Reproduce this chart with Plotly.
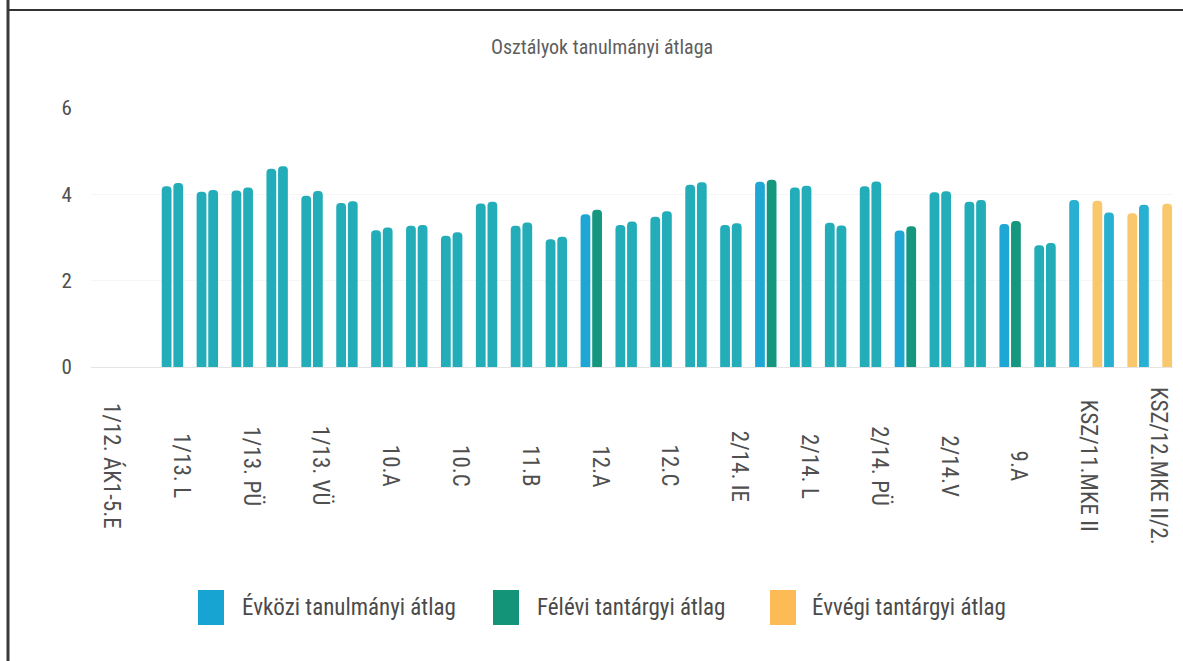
import plotly.graph_objects as go

# class averages, one slot per class (31 classes, only every other one is labelled)
evkozi = [None, None, 4.19, 4.06, 4.09, 4.59, 3.97, 3.80, 3.17, 3.27, 3.04, 3.79, 3.27, 2.96, 3.54,
          3.29, 3.48, 4.22, 3.29, 4.29, 4.16, 3.34, 4.19, 3.16, 4.05, 3.83, 3.31, 2.82, 3.87, 3.58, 3.76]
felevi = [None, None, 4.26, 4.10, 4.16, 4.65, 4.08, 3.84, 3.23, 3.29, 3.12, 3.83, 3.35, 3.02, 3.64,
          3.37, 3.61, 4.28, 3.33, 4.34, 4.20, 3.28, 4.30, 3.26, 4.07, 3.87, 3.38, 2.87, None, None, None]
evvegi = [None] * 28 + [3.85, 3.56, 3.78]

tick_index = list(range(0, 31, 2))
tick_labels = ["1/12. ÁK1-5.E", "1/13. L", "1/13. PÜ", "1/13. VÜ", "10.A", "10.C", "11.B", "12.A",
               "12.C", "2/14. IE", "2/14. L", "2/14. PÜ", "2/14.V", "9.A", "KSZ/11.MKE II",
               "KSZ/12.MKE II/2."]
series_names = ["Évközi tanulmányi átlag", "Félévi tantárgyi átlag", "Évvégi tantárgyi átlag"]
title_text = "Osztályok tanulmányi átlaga"

# colours as they came out on the printed copy
TEAL = "#22adb8"
BLUE = "#1ea7d5"
GREEN = "#14967f"
YELLOW = "#f9c86c"
clear_print = {14, 19, 23, 26}          # groups where blue/green print distinctly
tail_blue = {28, 29, 30}

FONT = "Liberation Sans Narrow, Roboto Condensed, Roboto, sans-serif"

W, H = 1183, 661
L, R, T, B = 91, 10, 108, 294
PW, PH = W - L - R, H - T - B


def px_x(px):
    return (px - L) / PW


def px_y(py):
    return (H - B - py) / PH


x = list(range(len(evkozi)))
blue_cols = [BLUE if i in clear_print else "#27b0d2" if i in tail_blue else TEAL for i in x]
green_cols = [GREEN if i in clear_print else TEAL for i in x]

fig = go.Figure()
fig.add_trace(go.Bar(x=x, y=evkozi, name=series_names[0], marker=dict(color=blue_cols, cornerradius=5)))
fig.add_trace(go.Bar(x=x, y=felevi, name=series_names[1], marker=dict(color=green_cols, cornerradius=5)))
fig.add_trace(go.Bar(x=x, y=evvegi, name=series_names[2], marker=dict(color=YELLOW, cornerradius=5)))
fig.update_traces(showlegend=False, marker_line_width=0)

annotations = []
for i, lbl in zip(tick_index, tick_labels):
    annotations.append(dict(x=i + 0.1, xref="x", y=px_y(466), yref="paper", text=lbl, textangle=90,
                            showarrow=False, xanchor="center", yanchor="middle",
                            font=dict(family=FONT, size=23, color="#4f4f4f")))

# custom legend with the large rounded swatches of the original
shapes = []
legend_items = [(198, 240, "#17a4d3"), (493, 535, "#139479"), (770, 810, "#fcbb55")]
for (sx, tx, col), name in zip(legend_items, series_names):
    shapes.append(dict(type="rect", xref="paper", yref="paper", x0=px_x(sx), x1=px_x(sx + 26),
                       y0=px_y(590), y1=px_y(625), fillcolor=col, line=dict(width=0), layer="above"))
    annotations.append(dict(x=px_x(tx), xref="paper", y=px_y(607), yref="paper", text=name,
                            showarrow=False, xanchor="left", yanchor="middle",
                            font=dict(family=FONT, size=23, color="#4a4a4a")))

# scanned page border
shapes.append(dict(type="line", xref="paper", yref="paper", x0=px_x(8), x1=px_x(8),
                   y0=px_y(0), y1=px_y(H), line=dict(color="#3a3a3a", width=3)))
shapes.append(dict(type="line", xref="paper", yref="paper", x0=px_x(8), x1=px_x(W + 5),
                   y0=px_y(10), y1=px_y(10), line=dict(color="#333333", width=2)))

fig.update_layout(
    width=W, height=H,
    margin=dict(l=L, r=R, t=T, b=B),
    paper_bgcolor="white", plot_bgcolor="white",
    barmode="group", bargap=0, bargroupgap=0.16,
    title=dict(text=title_text, x=602 / W, xanchor="center", y=1 - 47 / H, yanchor="middle",
               font=dict(family=FONT, size=20, color="#5e5e5e")),
    xaxis=dict(range=[-0.5, 30.5], showticklabels=False, showgrid=False, zeroline=False, showline=False),
    yaxis=dict(range=[0, 6], tickvals=[0, 2, 4, 6], showgrid=True, gridcolor="#f6f6f6",
               zeroline=True, zerolinecolor="#e4e4e4", zerolinewidth=1, showline=False,
               ticks="outside", ticklen=14, tickcolor="rgba(0,0,0,0)",
               tickfont=dict(family=FONT, size=21, color="#4f4f4f")),
    annotations=annotations,
    shapes=shapes,
)

fig.write_html("out.html", config={"displayModeBar": False},
               post_script="document.body.style.margin='0';")
